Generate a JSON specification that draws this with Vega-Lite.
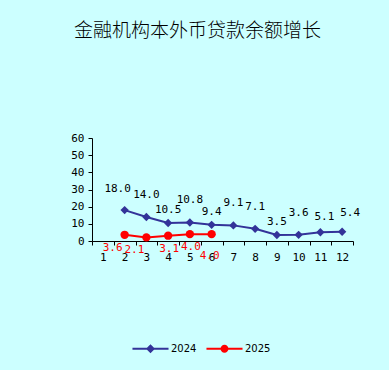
{
  "$schema": "https://vega.github.io/schema/vega-lite/v6.json",
  "autosize": "none",
  "width": 261,
  "height": 103,
  "padding": {"left": 92, "top": 138, "right": 36, "bottom": 129},
  "background": "#CCFFFF",
  "title": {
    "text": "金融机构本外币贷款余额增长",
    "font": "Noto Sans CJK SC",
    "fontSize": 19,
    "fontWeight": 300,
    "color": "#000000",
    "anchor": "middle",
    "frame": "group",
    "dx": -25,
    "offset": 91
  },
  "config": {
    "view": {"stroke": null},
    "axis": {
      "labelFont": "DejaVu Sans Mono",
      "labelFontSize": 11,
      "labelColor": "#000000",
      "domainColor": "#000000",
      "tickColor": "#000000",
      "grid": false,
      "title": null,
      "tickSize": 4
    }
  },
  "data": {
    "values": [
      {"month": 2, "year": "2024", "value": 18.0},
      {"month": 3, "year": "2024", "value": 14.0},
      {"month": 4, "year": "2024", "value": 10.5},
      {"month": 5, "year": "2024", "value": 10.8},
      {"month": 6, "year": "2024", "value": 9.4},
      {"month": 7, "year": "2024", "value": 9.1},
      {"month": 8, "year": "2024", "value": 7.1},
      {"month": 9, "year": "2024", "value": 3.5},
      {"month": 10, "year": "2024", "value": 3.6},
      {"month": 11, "year": "2024", "value": 5.1},
      {"month": 12, "year": "2024", "value": 5.4},
      {"month": 2, "year": "2025", "value": 3.6},
      {"month": 3, "year": "2025", "value": 2.1},
      {"month": 4, "year": "2025", "value": 3.1},
      {"month": 5, "year": "2025", "value": 4.0},
      {"month": 6, "year": "2025", "value": 4.0}
    ]
  },
  "encoding": {
    "x": {
      "field": "month",
      "type": "ordinal",
      "scale": {"type": "band", "domain": [1,2,3,4,5,6,7,8,9,10,11,12], "paddingInner": 0, "paddingOuter": 0},
      "axis": {"labelAngle": 0, "tickBand": "extent", "labelPadding": 6}
    },
    "y": {
      "field": "value",
      "type": "quantitative",
      "scale": {"domain": [0, 60], "nice": false},
      "axis": {"values": [0,10,20,30,40,50,60], "labelPadding": 4}
    }
  },
  "layer": [
    {
      "mark": {"type": "line", "strokeWidth": 2},
      "encoding": {
        "color": {"field": "year", "type": "nominal", "scale": {"domain": ["2024","2025"], "range": ["#333399","#FF0000"]},
          "legend": {
            "title": null,
            "orient": "none",
            "legendX": 40,
            "legendY": 192,
            "direction": "horizontal",
            "labelFont": "DejaVu Sans",
            "labelFontSize": 10,
            "labelColor": "#000000",
            "symbolSize": 1300,
            "columnPadding": 9,
            "labelOffset": 2,
            "encode": {
              "symbols": {
                "update": {
                  "shape": {"signal": "datum.value == '2024' ? 'M-1,-0.055L1,-0.055L1,0.055L-1,0.055Z M0,-0.25L0.25,0L0,0.25L-0.25,0Z' : 'M-1,-0.055L1,-0.055L1,0.055L-1,0.055Z M0.22,0A0.22,0.22 0 1,1 -0.22,0A0.22,0.22 0 1,1 0.22,0Z'"},
                  "size": {"value": 1300},
                  "fill": {"scale": "color", "field": "value"},
                  "strokeWidth": {"value": 0},
                  "opacity": {"value": 1}
                }
              }
            }
          }
        }
      }
    },
    {
      "transform": [{"filter": "datum.year == '2024'"}],
      "mark": {"type": "point", "filled": true, "opacity": 1, "size": 70, "shape": "diamond"},
      "encoding": {
        "color": {"field": "year", "type": "nominal"}
      }
    },
    {
      "transform": [{"filter": "datum.year == '2025'"}],
      "mark": {"type": "point", "filled": true, "opacity": 1, "size": 70, "shape": "circle"},
      "encoding": {
        "color": {"field": "year", "type": "nominal"}
      }
    },
    {
      "transform": [{"filter": "datum.year == '2024' && indexof([3,5,7,8,10], datum.month) >= 0"}],
      "mark": {"type": "text", "dy": -22, "font": "DejaVu Sans Mono", "fontSize": 11, "color": "#000000"},
      "encoding": {"text": {"field": "value", "type": "quantitative", "format": ".1f"}}
    },
    {
      "transform": [{"filter": "datum.year == '2024' && datum.month == 2"}],
      "mark": {"type": "text", "dy": -21, "dx": -7, "font": "DejaVu Sans Mono", "fontSize": 11, "color": "#000000"},
      "encoding": {"text": {"field": "value", "type": "quantitative", "format": ".1f"}}
    },
    {
      "transform": [{"filter": "datum.year == '2024' && indexof([4,6,9], datum.month) >= 0"}],
      "mark": {"type": "text", "dy": -13, "font": "DejaVu Sans Mono", "fontSize": 11, "color": "#000000"},
      "encoding": {"text": {"field": "value", "type": "quantitative", "format": ".1f"}}
    },
    {
      "transform": [{"filter": "datum.year == '2024' && datum.month == 11"}],
      "mark": {"type": "text", "dy": -15, "dx": 4, "font": "DejaVu Sans Mono", "fontSize": 11, "color": "#000000"},
      "encoding": {"text": {"field": "value", "type": "quantitative", "format": ".1f"}}
    },
    {
      "transform": [{"filter": "datum.year == '2024' && datum.month == 12"}],
      "mark": {"type": "text", "dy": -19, "dx": 8, "font": "DejaVu Sans Mono", "fontSize": 11, "color": "#000000"},
      "encoding": {"text": {"field": "value", "type": "quantitative", "format": ".1f"}}
    },
    {
      "transform": [{"filter": "datum.year == '2025' && datum.month <= 3"}],
      "mark": {"type": "text", "dy": 13, "dx": -12, "font": "DejaVu Sans Mono", "fontSize": 11, "color": "#FF0000"},
      "encoding": {"text": {"field": "value", "type": "quantitative", "format": ".1f"}}
    },
    {
      "transform": [{"filter": "datum.year == '2025' && (datum.month == 4 || datum.month == 5)"}],
      "mark": {"type": "text", "dy": 13, "dx": 1, "font": "DejaVu Sans Mono", "fontSize": 11, "color": "#FF0000"},
      "encoding": {"text": {"field": "value", "type": "quantitative", "format": ".1f"}}
    },
    {
      "transform": [{"filter": "datum.year == '2025' && datum.month == 6"}],
      "mark": {"type": "text", "dy": 22, "dx": -2, "font": "DejaVu Sans Mono", "fontSize": 11, "color": "#FF0000"},
      "encoding": {"text": {"field": "value", "type": "quantitative", "format": ".1f"}}
    }
  ]
}
